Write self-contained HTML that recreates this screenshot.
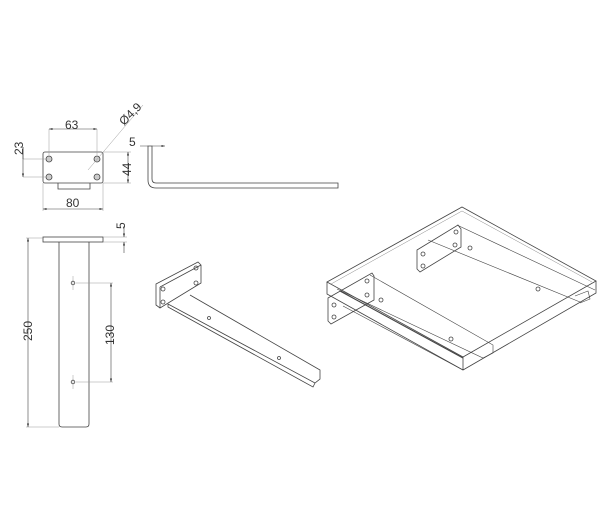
<!DOCTYPE html>
<html><head><meta charset="utf-8"><style>
html,body{margin:0;padding:0;background:#fff;width:600px;height:530px;overflow:hidden}
svg{display:block}
text{font-family:"Liberation Sans",sans-serif;font-size:12px;fill:#333}
</style></head><body>
<svg width="600" height="530" viewBox="0 0 600 530" xmlns="http://www.w3.org/2000/svg">
<defs>
<marker id="a" viewBox="0 0 10 10" refX="10" refY="5" markerWidth="6" markerHeight="6" orient="auto-start-reverse"><path d="M0,2 L10,5 L0,8z" fill="#333"/></marker>
</defs>
<g fill="none" stroke="#444" stroke-width="0.8">
<!-- front view -->
<rect x="43" y="152" width="60" height="31" rx="2"/>
<path d="M58,183 v6 h32 v-6"/>
<circle cx="49" cy="159" r="3" fill="#ccc"/><circle cx="97" cy="159" r="3" fill="#ccc"/>
<circle cx="49" cy="177" r="3" fill="#ccc"/><circle cx="97" cy="177" r="3" fill="#ccc"/>
<g stroke="#999" stroke-width="0.5">
<path d="M49,129 V155 M97,129 V155 M23,159 H46 M23,177 H46 M103,152 H131 M103,183 H131 M43,183 V211 M103,183 V211"/>
<path d="M88,170 L143,105"/>
</g>
<path d="M49,129 H97" marker-start="url(#a)" marker-end="url(#a)" stroke-width="0.6"/>
<path d="M23,147 V177" marker-end="url(#a)" stroke-width="0.6"/>
<path d="M23,159 V147" stroke-width="0.6"/>
<path d="M128,152 V183" marker-start="url(#a)" marker-end="url(#a)" stroke-width="0.6"/>
<path d="M43,209 H103" marker-start="url(#a)" marker-end="url(#a)" stroke-width="0.6"/>
<!-- side profile -->
<path d="M148,146 V180 Q148,188 156,188 H338 V183 H156 Q152,183 152,179 V146 Z"/>
<path d="M140,146 H148 M152,146 H165" stroke-width="0.6" marker-end="url(#a)"/>
<!-- bottom left view -->
<rect x="43" y="237" width="60" height="5"/>
<path d="M59,242 V424 Q59,427 62,427 H86 Q89,427 89,424 V242"/>
<circle cx="73" cy="283" r="1.8"/><circle cx="73" cy="382" r="1.8"/>
<g stroke="#999" stroke-width="0.5">
<path d="M26,238 H43 M26,427 H59 M76,283 H113 M76,382 H113 M103,237 H127 M103,242 H127 M73,276 V290 M73,375 V389"/>
</g>
<path d="M28,238 V427" marker-start="url(#a)" marker-end="url(#a)" stroke-width="0.6"/>
<path d="M111,283 V382" marker-start="url(#a)" marker-end="url(#a)" stroke-width="0.6"/>
<path d="M124,226 V237" marker-end="url(#a)" stroke-width="0.6"/>
<path d="M124,253 V242" marker-end="url(#a)" stroke-width="0.6"/>
<!-- iso bracket -->
<path d="M156,284 L198,262 L201,265 L201,283 L160,308 L156,305 Z"/>
<path d="M160,287 L201,265 M160,287 V308"/>
<circle cx="163" cy="289" r="2"/><circle cx="163" cy="302" r="2"/>
<circle cx="196" cy="268" r="2"/><circle cx="196" cy="283" r="2"/>
<path d="M168,304 L315,383 L320,379 L320,370 L190,295 M168,304 V307 L313,387 L315,383 M320,379 L315,383"/>
<circle cx="209" cy="318" r="1.5"/><circle cx="279" cy="358" r="1.5"/>
<!-- iso shelf -->
<path d="M327,282 L462,207 L596,281 L463,357 Z"/>
<path d="M327,282 V294 L463,370 L596,293 V281 M463,357 V370"/>
<path d="M331,284 L462,211 L592,282" stroke="#888" stroke-width="0.5"/>
<!-- left bracket -->
<path d="M328,298 L372,273 L374,276 V300 L331,324 L328,321 Z"/>
<circle cx="334" cy="305" r="2"/><circle cx="334" cy="317" r="2"/>
<circle cx="367" cy="281" r="2"/><circle cx="367" cy="295" r="2"/>
<path d="M337,289 L483,358 L493,353 V345 L370,275 M343,306 L463,370" stroke-width="0.6"/>
<path d="M340,291 L463,358" stroke-width="1.1"/>
<circle cx="381" cy="300" r="2"/><circle cx="451" cy="339" r="2"/>
<!-- right bracket -->
<path d="M417,250 L458,225 L461,229 V247 L420,272 L417,269 Z"/>
<circle cx="423" cy="254" r="2"/><circle cx="423" cy="266" r="2"/>
<circle cx="456" cy="232" r="2"/><circle cx="455" cy="245" r="2"/>
<path d="M428,240 L580,302 M457,225 L595,290 M575,296 L588,291 L590,299 L580,303" stroke-width="0.6"/>
<circle cx="470" cy="248" r="2"/><circle cx="538" cy="289" r="2"/>
</g>
<text x="65" y="129">63</text>
<text x="0" y="0" transform="translate(124,126) rotate(-45)">Ø4,9</text>
<text x="0" y="0" transform="translate(23,155) rotate(-90)">23</text>
<text x="0" y="0" transform="translate(131,176) rotate(-90)">44</text>
<text x="66" y="207">80</text>
<text x="129" y="146">5</text>
<text x="0" y="0" transform="translate(125,229) rotate(-90)">5</text>
<text x="0" y="0" transform="translate(32,341) rotate(-90)">250</text>
<text x="0" y="0" transform="translate(114,345) rotate(-90)">130</text>
</svg>
</body></html>
